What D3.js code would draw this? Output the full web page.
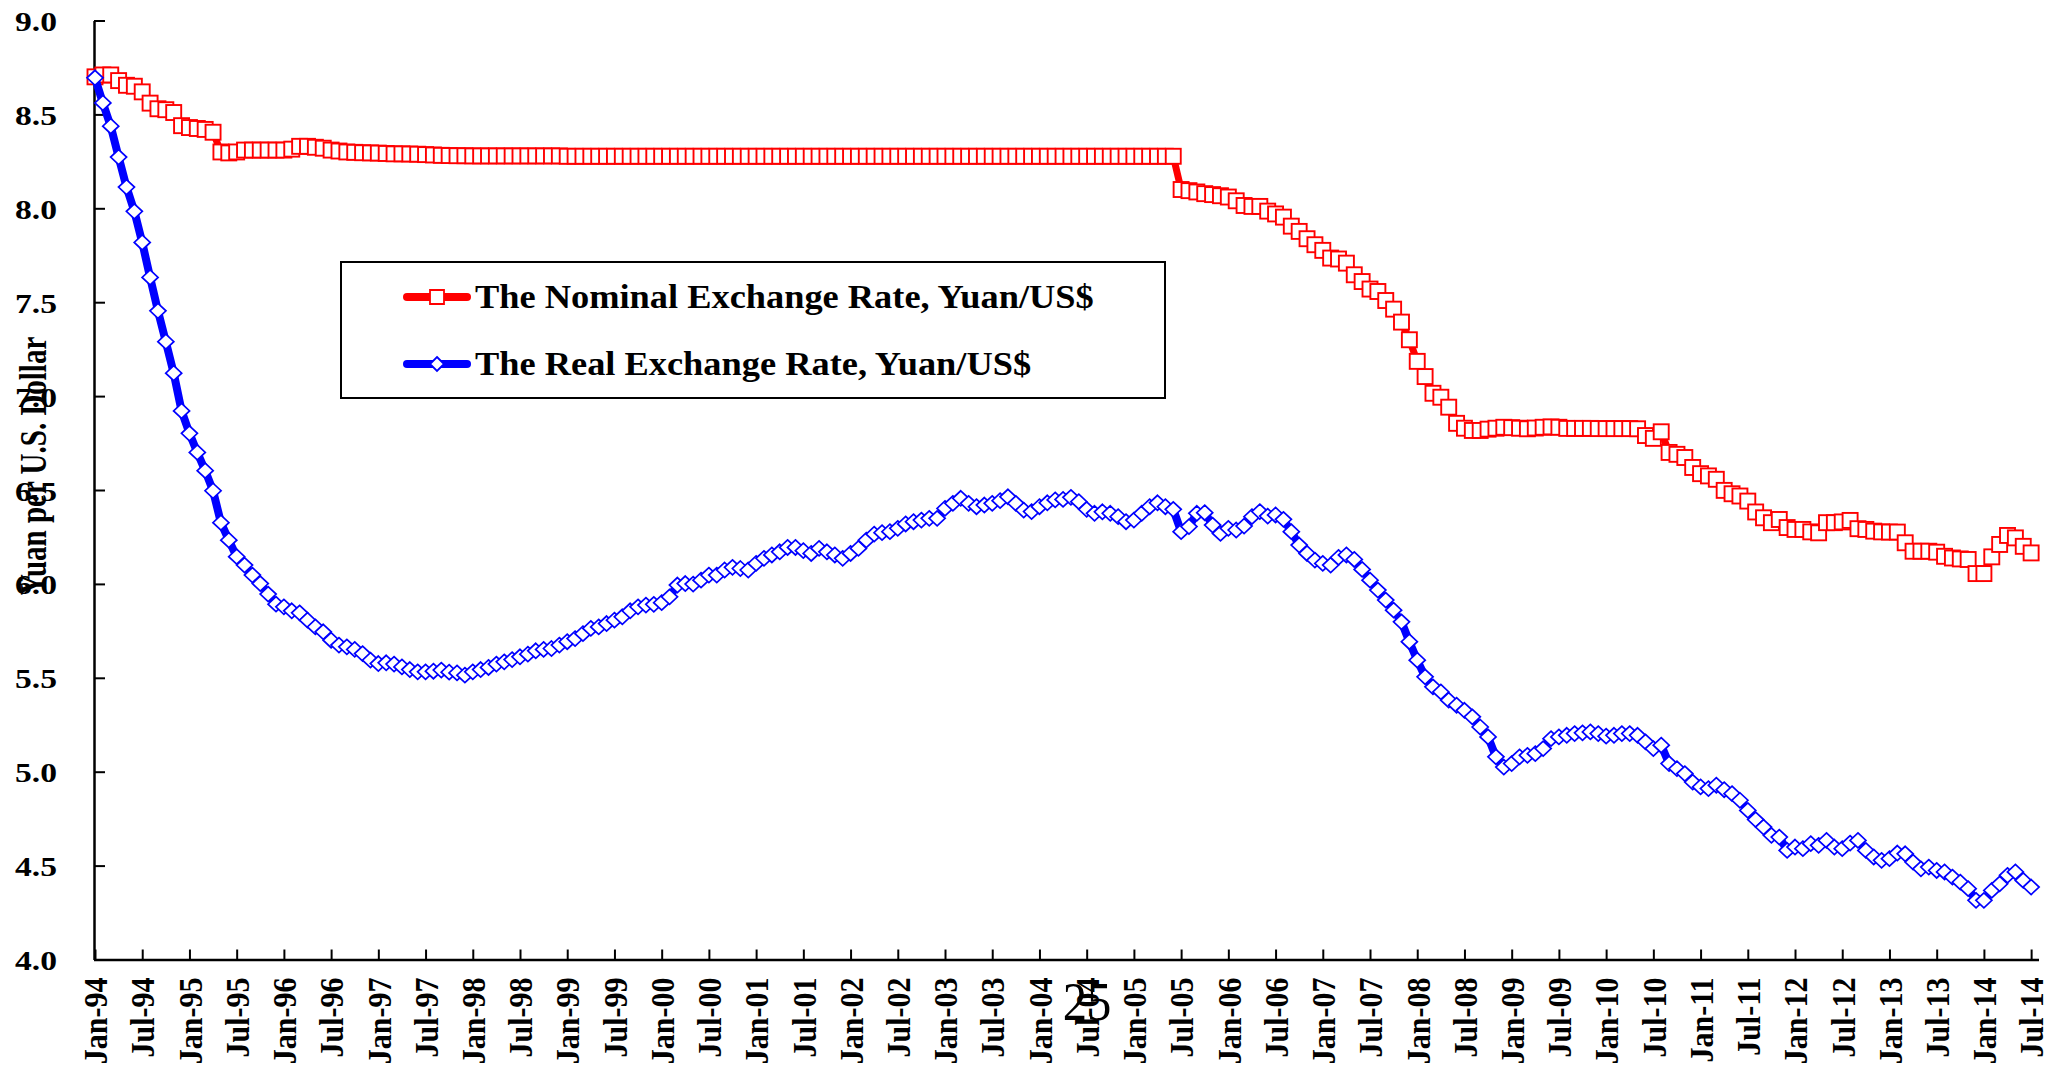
<!DOCTYPE html>
<html>
<head>
<meta charset="utf-8">
<script src="https://cdn.jsdelivr.net/npm/d3@7"></script>
<style>
  body { margin: 0; background: #fff; }
  svg text { font-family: "Liberation Serif", "Times New Roman", serif; }
</style>
</head>
<body>
<script>
// Tick labels of the category axis, one every 6 months
const tickLabels = ["Jan-94","Jul-94","Jan-95","Jul-95","Jan-96","Jul-96","Jan-97","Jul-97","Jan-98","Jul-98",
  "Jan-99","Jul-99","Jan-00","Jul-00","Jan-01","Jul-01","Jan-02","Jul-02","Jan-03","Jul-03",
  "Jan-04","Jul-04","Jan-05","Jul-05","Jan-06","Jul-06","Jan-07","Jul-07","Jan-08","Jul-08",
  "Jan-09","Jul-09","Jan-10","Jul-10","Jan-11","Jul-11","Jan-12","Jul-12","Jan-13","Jul-13",
  "Jan-14","Jul-14"];
const yTicks = [4.0, 4.5, 5.0, 5.5, 6.0, 6.5, 7.0, 7.5, 8.0, 8.5, 9.0];

// Monthly values, Jan-94 .. Jul-14 (one row per year)
const nominal = [
  8.70, 8.71, 8.71, 8.68, 8.655, 8.65, 8.62, 8.56, 8.53, 8.525, 8.51, 8.44,
  8.43, 8.425, 8.42, 8.405, 8.30, 8.295, 8.30, 8.31, 8.31, 8.31, 8.31, 8.31,
  8.31, 8.315, 8.33, 8.33, 8.325, 8.32, 8.31, 8.305, 8.30, 8.298, 8.296, 8.295,
  8.294, 8.292, 8.29, 8.29, 8.289, 8.288, 8.286, 8.284, 8.282, 8.281, 8.28, 8.28,
  8.279, 8.279, 8.279, 8.279, 8.279, 8.279, 8.279, 8.279, 8.279, 8.279, 8.279, 8.279,
  8.277, 8.277, 8.277, 8.277, 8.277, 8.277, 8.277, 8.277, 8.277, 8.277, 8.277, 8.277,
  8.277, 8.277, 8.277, 8.277, 8.277, 8.277, 8.277, 8.277, 8.277, 8.277, 8.277, 8.277,
  8.277, 8.277, 8.277, 8.277, 8.277, 8.277, 8.277, 8.277, 8.277, 8.277, 8.277, 8.277,
  8.277, 8.277, 8.277, 8.277, 8.277, 8.277, 8.277, 8.277, 8.277, 8.277, 8.277, 8.277,
  8.277, 8.277, 8.277, 8.277, 8.277, 8.277, 8.277, 8.277, 8.277, 8.277, 8.277, 8.277,
  8.277, 8.277, 8.277, 8.277, 8.277, 8.277, 8.277, 8.277, 8.277, 8.277, 8.277, 8.277,
  8.277, 8.277, 8.277, 8.277, 8.277, 8.277, 8.10, 8.094, 8.087, 8.078, 8.073, 8.067,
  8.06, 8.04, 8.015, 8.01, 8.01, 7.985, 7.97, 7.953, 7.905, 7.877, 7.838, 7.806,
  7.776, 7.735, 7.73, 7.708, 7.646, 7.61, 7.57, 7.557, 7.509, 7.463, 7.394, 7.30,
  7.185, 7.104, 7.015, 6.994, 6.941, 6.855, 6.829, 6.817, 6.817, 6.824, 6.829, 6.834,
  6.832, 6.829, 6.826, 6.83, 6.834, 6.836, 6.834, 6.828, 6.828, 6.828, 6.828, 6.827,
  6.827, 6.827, 6.827, 6.827, 6.826, 6.79, 6.775, 6.81, 6.70, 6.69, 6.673, 6.62,
  6.587, 6.575, 6.557, 6.498, 6.48, 6.468, 6.441, 6.383, 6.352, 6.326, 6.343, 6.30,
  6.29, 6.29, 6.277, 6.272, 6.326, 6.326, 6.33, 6.338, 6.294, 6.29, 6.281, 6.277,
  6.276, 6.276, 6.219, 6.174, 6.174, 6.174, 6.169, 6.147, 6.138, 6.133, 6.13, 6.055,
  6.055, 6.144, 6.21, 6.258, 6.245, 6.20, 6.165
];
const real = [
  8.695, 8.561, 8.437, 8.273, 8.113, 7.984, 7.818, 7.632, 7.454, 7.29, 7.122, 6.921,
  6.802, 6.70, 6.603, 6.496, 6.326, 6.233, 6.145, 6.10, 6.047, 6.002, 5.946, 5.892,
  5.878, 5.857, 5.846, 5.807, 5.771, 5.745, 5.70, 5.674, 5.665, 5.651, 5.629, 5.594,
  5.576, 5.58, 5.573, 5.558, 5.544, 5.532, 5.532, 5.535, 5.541, 5.53, 5.526, 5.514,
  5.532, 5.544, 5.555, 5.573, 5.585, 5.597, 5.612, 5.626, 5.644, 5.651, 5.656, 5.674,
  5.692, 5.709, 5.735, 5.763, 5.771, 5.789, 5.807, 5.825, 5.857, 5.878, 5.887, 5.891,
  5.90, 5.931, 5.994, 6.002, 5.999, 6.02, 6.047, 6.047, 6.074, 6.088, 6.082, 6.074,
  6.109, 6.136, 6.154, 6.171, 6.194, 6.194, 6.177, 6.162, 6.189, 6.171, 6.154, 6.136,
  6.162, 6.189, 6.233, 6.265, 6.273, 6.278, 6.296, 6.319, 6.331, 6.34, 6.349, 6.349,
  6.402, 6.429, 6.456, 6.429, 6.411, 6.42, 6.429, 6.443, 6.464, 6.429, 6.393, 6.385,
  6.411, 6.432, 6.447, 6.45, 6.461, 6.438, 6.397, 6.376, 6.384, 6.376, 6.358, 6.331,
  6.34, 6.376, 6.411, 6.432, 6.411, 6.397, 6.278, 6.305, 6.376, 6.379, 6.313, 6.269,
  6.296, 6.287, 6.308, 6.358, 6.385, 6.361, 6.367, 6.344, 6.278, 6.207, 6.162, 6.127,
  6.109, 6.10, 6.141, 6.154, 6.13, 6.077, 6.02, 5.967, 5.914, 5.86, 5.798, 5.692,
  5.594, 5.505, 5.452, 5.425, 5.381, 5.354, 5.327, 5.292, 5.238, 5.185, 5.079, 5.025,
  5.043, 5.079, 5.087, 5.096, 5.123, 5.176, 5.185, 5.194, 5.203, 5.207, 5.212, 5.203,
  5.189, 5.194, 5.203, 5.203, 5.194, 5.159, 5.123, 5.141, 5.043, 5.016, 4.99, 4.945,
  4.919, 4.91, 4.928, 4.904, 4.883, 4.848, 4.794, 4.745, 4.705, 4.661, 4.652, 4.581,
  4.599, 4.59, 4.617, 4.608, 4.634, 4.599, 4.59, 4.62, 4.634, 4.581, 4.546, 4.528,
  4.537, 4.567, 4.563, 4.519, 4.483, 4.492, 4.474, 4.466, 4.439, 4.412, 4.377, 4.315,
  4.315, 4.368, 4.403, 4.448, 4.466, 4.421, 4.386
];

const w = 2055;
const h = 1068;
const plotLeft = 95, plotRight = 2039, plotTop = 20.5, plotBottom = 959.5;

// Category index on x (one extra empty slot after Jul-14), value on y
const xScale = d3.scaleLinear().domain([0, nominal.length]).range([plotLeft, plotRight]);
const yScale = d3.scaleLinear().domain([4, 9]).range([plotBottom, plotTop]);

const svg = d3.select("body")
  .append("svg")
  .attr("width", w)
  .attr("height", h);

// x axis, ticks pointing up, rotated labels
const xAxis = svg.append("g")
  .attr("transform", `translate(0, ${plotBottom})`)
  .call(d3.axisBottom(xScale)
    .tickValues(d3.range(0, nominal.length, 6))
    .tickSizeInner(-10)
    .tickSizeOuter(0)
    .tickFormat(i => tickLabels[i / 6]));
xAxis.attr("font-family", null).attr("font-size", 30).attr("font-weight", "bold");
xAxis.select(".domain").attr("stroke", "#000").attr("stroke-width", 2.5).attr("d", `M${plotLeft - 1},0.5H${plotRight}`);
xAxis.selectAll(".tick line").attr("stroke", "#000").attr("stroke-width", 2);
xAxis.selectAll(".tick text")
  .attr("fill", "#000")
  .attr("transform", "scale(1.12, 1) rotate(-90)")
  .attr("x", -18)
  .attr("y", 0)
  .attr("dy", "0.35em")
  .attr("text-anchor", "end");

// y axis, ticks pointing right
const yAxis = svg.append("g")
  .attr("transform", "translate(94, 0)")
  .call(d3.axisLeft(yScale)
    .tickValues(yTicks)
    .tickSizeInner(-11)
    .tickSizeOuter(0)
    .tickFormat(d3.format(".1f")));
yAxis.attr("font-family", null).attr("font-size", 28).attr("font-weight", "bold");
yAxis.select(".domain").attr("stroke", "#000").attr("stroke-width", 2.5);
yAxis.selectAll(".tick text")
  .attr("fill", "#000")
  .attr("x", 0)
  .attr("dy", null)
  .attr("transform", "translate(-37, 10) scale(1.2, 1)")
  .attr("text-anchor", "end");
yAxis.selectAll(".tick line").attr("stroke", "#000").attr("stroke-width", 2);

// y axis title (overlaps the tick labels as in the source)
svg.append("text")
  .attr("transform", "translate(46, 466) scale(1.3, 1) rotate(-90)")
  .attr("text-anchor", "middle")
  .attr("font-size", 29)
  .attr("font-weight", "bold")
  .text("Yuan per U.S. Dollar");

const line = d3.line()
  .x((d, i) => xScale(i))
  .y(d => yScale(d));

// Nominal series: red line with hollow squares
svg.append("path")
  .datum(nominal)
  .attr("d", line)
  .attr("fill", "none")
  .attr("stroke", "#ff0000")
  .attr("stroke-width", 7)
  .attr("stroke-linejoin", "round");

svg.selectAll(".sq")
  .data(nominal)
  .enter()
  .append("rect")
  .attr("class", "sq")
  .attr("x", (d, i) => xScale(i) - 7.5)
  .attr("y", d => yScale(d) - 7.5)
  .attr("width", 15)
  .attr("height", 15)
  .attr("fill", "#fff")
  .attr("stroke", "#ff0000")
  .attr("stroke-width", 1.9);

// Real series: blue line with hollow diamonds
svg.append("path")
  .datum(real)
  .attr("d", line)
  .attr("fill", "none")
  .attr("stroke", "#0000ff")
  .attr("stroke-width", 8)
  .attr("stroke-linejoin", "round");

const diamond = "M0,-7.5L8,0L0,7.5L-8,0Z";
svg.selectAll(".dm")
  .data(real)
  .enter()
  .append("path")
  .attr("class", "dm")
  .attr("d", diamond)
  .attr("transform", (d, i) => `translate(${xScale(i)}, ${yScale(d)})`)
  .attr("fill", "#fff")
  .attr("stroke", "#0000ff")
  .attr("stroke-width", 1.7);

// Legend box
const legend = svg.append("g").attr("id", "legend");
legend.append("rect")
  .attr("x", 341).attr("y", 262)
  .attr("width", 824).attr("height", 136)
  .attr("fill", "#fff")
  .attr("stroke", "#000")
  .attr("stroke-width", 2);

const entries = [
  { label: "The Nominal Exchange Rate, Yuan/US$", color: "#ff0000", y: 297, mark: "M-7,-7H7V7H-7Z" },
  { label: "The Real Exchange Rate, Yuan/US$", color: "#0000ff", y: 364, mark: "M0,-7L7,0L0,7L-7,0Z" }
];
entries.forEach(e => {
  legend.append("line")
    .attr("x1", 407).attr("x2", 467)
    .attr("y1", e.y).attr("y2", e.y)
    .attr("stroke", e.color)
    .attr("stroke-width", 8)
    .attr("stroke-linecap", "round");
  legend.append("path")
    .attr("d", e.mark)
    .attr("transform", `translate(437, ${e.y})`)
    .attr("fill", "#fff")
    .attr("stroke", e.color)
    .attr("stroke-width", 1.8);
  legend.append("text")
    .attr("transform", `translate(475, ${e.y + 11}) scale(1.07, 1)`)
    .attr("font-size", 34)
    .attr("font-weight", "bold")
    .text(e.label);
});

// Page number that sits over the axis labels
svg.append("text")
  .attr("transform", "translate(1087, 1020) scale(0.9, 1)")
  .attr("text-anchor", "middle")
  .attr("font-size", 54)
  .text("25");
</script>
</body>
</html>
